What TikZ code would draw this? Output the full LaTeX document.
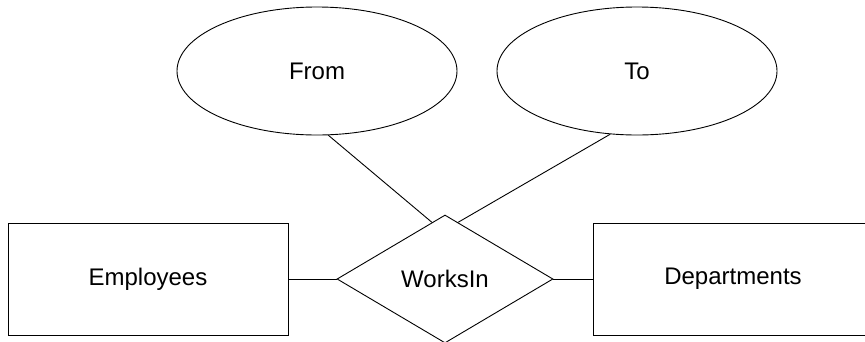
\documentclass[tikz,border=0pt]{standalone}
\usepackage{fontspec}
\setmainfont{Liberation Sans}
\usepackage{tikz}
\usetikzlibrary{positioning}
\usetikzlibrary{shapes.geometric}

\begin{document}
\begin{tikzpicture}[x=1pt,y=-1pt,line width=0.9pt,
  every node/.style={font=\fontsize{24}{29}\selectfont, inner sep=0pt},
  entity/.style={draw, rectangle, minimum width=280pt, minimum height=112pt},
  rel/.style={draw, diamond, minimum width=216pt, minimum height=128pt},
  attr/.style={draw, ellipse, minimum width=280pt, minimum height=128pt}]
			% page frame, the right box and the diamond run off the edge
			\useasboundingbox (0,0) rectangle (865,341);
			\clip (0,0) rectangle (865,341);

			% entities and the relationship
			\draw (148,279) node[entity] (e1) {Employees};
			\draw (445,279) node[rel] (r1) {WorksIn};
			\draw (733,279) node[entity] (e2) {Departments};

			% attributes of the relationship
			\draw (317,71) node[attr] (a1) {From};
			\draw (637,71) node[attr] (a2) {To};

			\draw (e1.east) -- (r1.west);
			\draw (r1.east) -- (e2.west);
			\draw (a1.-80) -- (r1.103);
			\draw (a2.-113) -- (r1.77);
		\end{tikzpicture}
\end{document}
